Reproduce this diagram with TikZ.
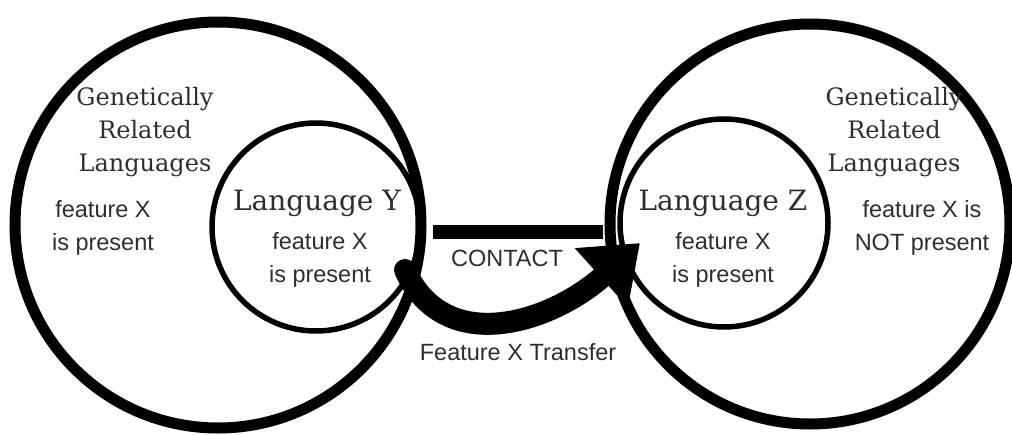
\documentclass[tikz,border=0pt]{standalone}
\usepackage{fontspec}
\setmainfont{DejaVu Serif}
\newfontfamily\labelsans{Liberation Sans}
\usetikzlibrary{arrows.meta}
\definecolor{ink}{HTML}{2E2E2E}
\tikzset{
  bigring/.style={circle, draw=black, line width=11pt, inner sep=0pt, minimum size=#1},
  smallring/.style={circle, draw=black, line width=5.5pt, inner sep=0pt, minimum size=#1},
  grouptext/.style={align=center, text=ink, inner sep=0pt, font=\fontsize{24}{33}\selectfont},
  langtitle/.style={text=ink, inner sep=0pt, font=\fontsize{28}{33}\selectfont},
  sanstext/.style={align=center, text=ink, inner sep=0pt, font=\labelsans\fontsize{23.5}{33}\selectfont},
  contactbar/.style={line width=14pt, line cap=butt},
  transfer/.style={line width=22pt, line cap=round, -{Triangle[length=52pt,width=76pt]}}
}
\begin{document}
\begin{tikzpicture}[x=1pt,y=-1pt]
  \useasboundingbox (0,0) rectangle (1012,434);

  % family circles and the two languages
  \node[bigring=406pt] (famL) at (218,225) {};
  \node[bigring=400pt] (famR) at (810,224) {};
  \node[smallring=208pt] (langY) at (316,227) {};
  \node[smallring=208pt] (langZ) at (724,223) {};

  % labels of the left family
  \node[grouptext] (relL) at (145,132) {Genetically\\Related\\Languages};
  \node[sanstext] (featL) at (103,228) {feature X\\is present};
  \node[langtitle] (titleY) at (317,203) {Language Y};
  \node[sanstext] (featY) at (320,260) {feature X\\is present};

  % labels of the right family
  \node[grouptext] (relR) at (894,132) {Genetically\\Related\\Languages};
  \node[sanstext] (featR) at (922,228) {feature X is\\NOT present};
  \node[langtitle] (titleZ) at (723,203) {Language Z};
  \node[sanstext] (featZ) at (723,260) {feature X\\is present};

  % contact bar
  \coordinate (barL) at (433,232);
  \coordinate (barR) at (603,232);
  \draw[contactbar] (barL) -- (barR);
  \node[sanstext] (contact) at (507,258) {CONTACT};

  % transfer arrow
  \coordinate (fromY) at (405,270);
  \coordinate (toZ) at (640,243);
  \draw[transfer] (fromY) .. controls (445,358) and (552,322) .. (toZ);
  \node[sanstext] (transferlbl) at (518,352) {Feature X Transfer};
\end{tikzpicture}
\end{document}
